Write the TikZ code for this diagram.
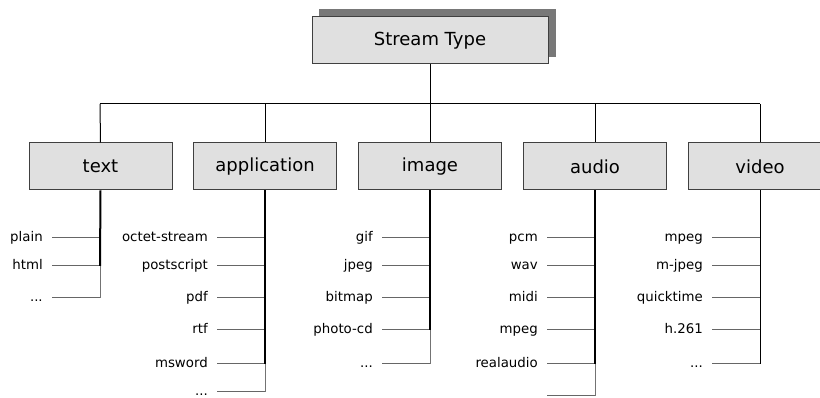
\documentclass[tikz,border=0pt]{standalone}
\usepackage{fontspec}
\setmainfont{DejaVu Sans}
\newcommand\leaf[4]{%
  \node[lbl] (#1) at (#2-57,#3) {#4};
  \coordinate (#1s) at (#2,#3);
  \draw[stub] (#1.east) ++(9,0) -- (#1s);}
\newcommand\bareleaf[3]{%
  \coordinate (#1s) at (#2,#3);
  \coordinate (#1a) at (#2-48,#3);
  \draw[stub] (#1a) -- (#1s);}
\begin{document}
\begin{tikzpicture}[x=0.75pt,y=-0.75pt,
  box/.style={draw=black!75, fill=black!12, line width=0.75pt, minimum width=107.25pt, minimum height=35.25pt, inner sep=0pt, font=\fontsize{13.5}{16}\selectfont},
  lbl/.style={anchor=east, inner sep=0pt, font=\fontsize{10}{12}\selectfont, text height=7.5pt, text depth=2pt},
  stub/.style={draw=black!60, line width=0.75pt},
  trunk/.style={draw=black, line width=1.5pt},
  tail/.style={draw=black!55, line width=0.75pt},
  conn/.style={draw=black, line width=0.75pt}]
\useasboundingbox (0,0) rectangle (820,398);
% root
\fill[black!53] (319,9) rectangle (556,57);
\node[box, minimum width=177pt] (root) at (430,40.5) {Stream Type};
% junctions
\coordinate (j1) at (100,104);
\coordinate (j2) at (265,104);
\coordinate (j3) at (430,104);
\coordinate (j4) at (595,104);
\coordinate (j5) at (760,104);
\draw[conn] (root.south) -- (j3);
\draw[conn] (j1) -- (j5);
% category boxes
\node[box] (b1) at (100.5,166.5) {text};
\node[box] (b2) at (265,166.5) {application};
\node[box] (b3) at (430,166.5) {image};
\node[box] (b4) at (595,166.5) {audio};
\node[box] (b5) at (760,166.5) {video};
\foreach \i in {1,...,5} {\draw[conn] (j\i) -- (b\i.north);}
% text
\leaf{a1}{100}{238}{plain}
\leaf{a2}{100}{266}{html}
\leaf{a3}{100}{298}{...}
\draw[trunk] (b1.south) -- (a2s);
\draw[tail] (a2s) -- (a3s);
% application
\leaf{c1}{265}{238}{octet-stream}
\leaf{c2}{265}{266}{postscript}
\leaf{c3}{265}{298}{pdf}
\leaf{c4}{265}{330}{rtf}
\leaf{c5}{265}{364}{msword}
\leaf{c6}{265}{392}{...}
\draw[trunk] (b2.south) -- (c5s);
\draw[tail] (c5s) -- (c6s);
% image
\leaf{d1}{430}{238}{gif}
\leaf{d2}{430}{266}{jpeg}
\leaf{d3}{430}{298}{bitmap}
\leaf{d4}{430}{330}{photo-cd}
\leaf{d5}{430}{364}{...}
\draw[trunk] (b3.south) -- (d4s);
\draw[tail] (d4s) -- (d5s);
% audio
\leaf{e1}{595}{238}{pcm}
\leaf{e2}{595}{266}{wav}
\leaf{e3}{595}{298}{midi}
\leaf{e4}{595}{330}{mpeg}
\leaf{e5}{595}{364}{realaudio}
\bareleaf{e6}{595}{396}
\draw[trunk] (b4.south) -- (e5s);
\draw[tail] (e5s) -- (e6s);
% video
\leaf{f1}{760}{238}{mpeg}
\leaf{f2}{760}{266}{m-jpeg}
\leaf{f3}{760}{298}{quicktime}
\leaf{f4}{760}{330}{h.261}
\leaf{f5}{760}{364}{...}
\draw[conn] (b5.south) -- (f5s);
\end{tikzpicture}
\end{document}
